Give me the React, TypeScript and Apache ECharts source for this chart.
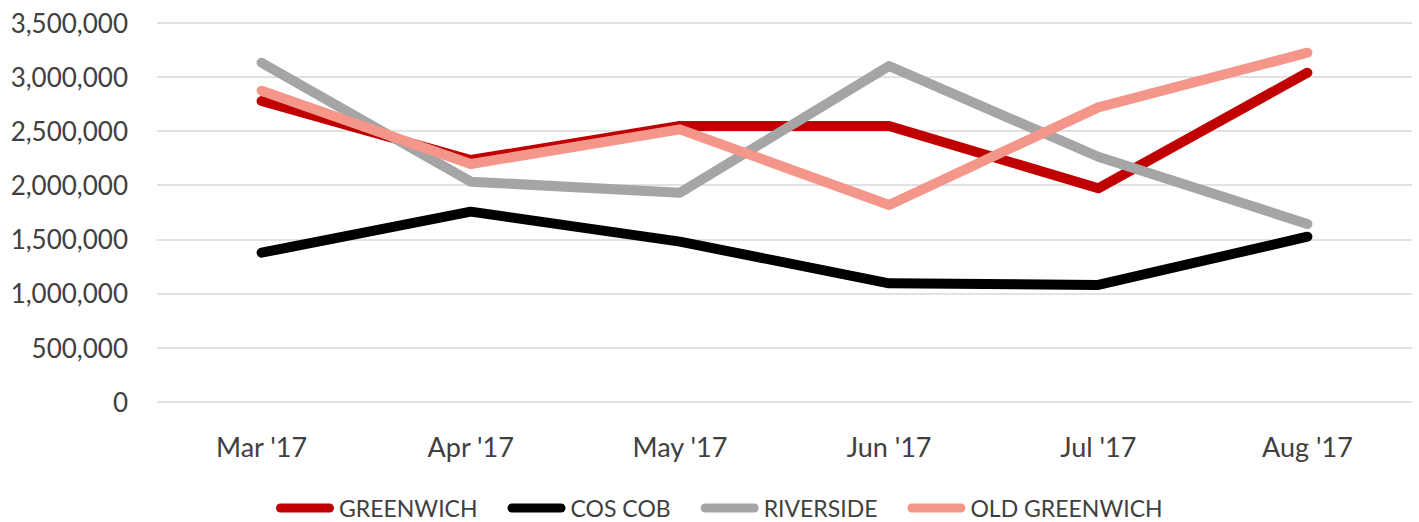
import React, { useEffect, useRef } from "react";
import * as echarts from "echarts";

const categories = ["Mar '17", "Apr '17", "May '17", "Jun '17", "Jul '17", "Aug '17"];
const greenwich = [2777000, 2232000, 2546000, 2546000, 1971000, 3038000];
const cosCob = [1376000, 1755000, 1478000, 1093000, 1078000, 1524000];
const riverside = [3130000, 2032000, 1930000, 3100000, 2262000, 1641000];
const oldGreenwich = [2872000, 2195000, 2515000, 1816000, 2718000, 3223000];
const seriesNames = ["GREENWICH", "COS COB", "RIVERSIDE", "OLD GREENWICH"];
const colors = ["#C00000", "#000000", "#A5A5A5", "#F4968A"];

const FONT = "Lato";
const TEXT = "#404040";

export default function App() {
  const ref = useRef<HTMLDivElement>(null);
  useEffect(() => {
    if (!ref.current) return;
    const chart = echarts.init(ref.current, null, { renderer: "svg" });
    const data = [greenwich, cosCob, riverside, oldGreenwich];
    chart.setOption({
      animation: false,
      grid: { left: 157, right: 7, top: 22.7, bottom: 120.3, containLabel: false },
      legend: {
        left: 271,
        top: 491,
        itemWidth: 58,
        itemHeight: 9,
        itemGap: 30,
        icon: "path://M4.5,0 H53.5 A4.5,4.5 0 0 1 53.5,9 H4.5 A4.5,4.5 0 0 1 4.5,0 Z",
        textStyle: { fontFamily: FONT, fontSize: 23, lineHeight: 24, color: TEXT },
        data: seriesNames,
      },
      xAxis: {
        type: "category",
        data: categories,
        boundaryGap: true,
        axisLine: { show: false },
        axisTick: { show: false },
        axisLabel: { fontFamily: FONT, fontSize: 27, color: TEXT, margin: 31 },
      },
      yAxis: {
        type: "value",
        min: 0,
        max: 3500000,
        interval: 500000,
        axisLine: { show: false },
        axisTick: { show: false },
        splitLine: { lineStyle: { color: "#D9D9D9", width: 1.5 } },
        axisLabel: {
          fontFamily: FONT,
          fontSize: 26,
          color: TEXT,
          margin: 29,
          formatter: (v: number) => v.toLocaleString("en-US"),
        },
      },
      series: seriesNames.map((name, i) => ({
        name,
        type: "line",
        data: data[i],
        symbol: "none",
        color: colors[i],
        lineStyle: { color: colors[i], width: 10, cap: "round", join: "round" },
      })),
    });
    return () => chart.dispose();
  }, []);
  return <div ref={ref} style={{ width: 1419, height: 522, position: "absolute", left: 0, top: 0 }} />;
}
